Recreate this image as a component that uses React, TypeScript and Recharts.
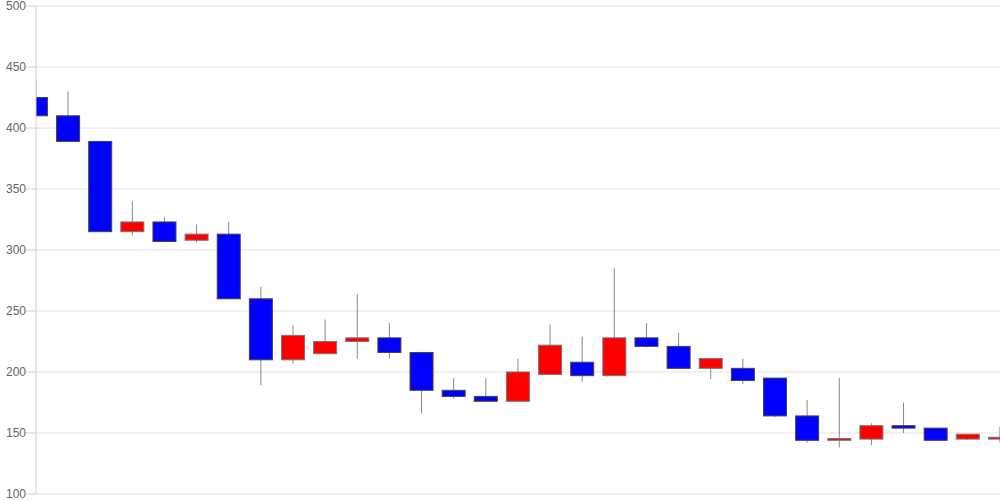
import { ComposedChart, Bar, XAxis, YAxis, CartesianGrid } from "recharts";

const opens = [425, 410, 389, 315, 323, 308, 313, 260, 210, 215, 225, 228, 216, 185, 180, 176, 198, 208, 197, 228, 221, 203, 203, 195, 164, 144, 145, 156, 154, 145, 145];
const closes = [410, 389, 315, 323, 307, 313, 260, 210, 230, 225, 228, 216, 185, 180, 176, 200, 222, 197, 228, 221, 203, 211, 193, 164, 144, 145.5, 156, 154, 144, 149, 146.5];
const highs = [440, 430, 389, 340, 327, 321, 323, 270, 238, 243, 264, 240, 216, 195, 195, 211, 239, 229, 285, 240, 232, 211, 211, 195, 177, 195, 158, 175, 154, 149, 155];
const lows = [410, 389, 315, 312, 307, 306, 260, 189, 207, 215, 211, 211, 166, 178, 176, 176, 198, 192, 197, 220, 203, 194, 190, 163, 142, 138, 140, 150, 144, 144, 142];
const yTicks = [100, 150, 200, 250, 300, 350, 400, 450, 500];

const data = opens.map((o, i) => ({
  i,
  open: o,
  close: closes[i],
  high: highs[i],
  low: lows[i],
  range: [lows[i], highs[i]],
}));

const Candle = (props: any) => {
  const { x, y, width, height, payload } = props;
  const { open, close, high, low } = payload;
  const h = Math.abs(height);
  const top = Math.min(y, y + height);
  const k = h / (high - low || 1);
  const bodyTop = top + (high - Math.max(open, close)) * k;
  const bodyBottom = top + (high - Math.min(open, close)) * k;
  const cx = x + width / 2;
  const up = close >= open;
  return (
    <g>
      <line x1={cx} x2={cx} y1={top} y2={top + h} stroke="#888" strokeWidth={1} />
      <rect
        x={x + 0.5}
        y={bodyTop}
        width={width - 1}
        height={Math.max(bodyBottom - bodyTop, 1)}
        fill={up ? "#ff0000" : "#0000ff"}
        stroke={up ? "#777" : "#444"}
        strokeWidth={1}
      />
    </g>
  );
};

export default function App() {
  return (
    <div style={{ position: "absolute", left: 0, top: 0, fontFamily: "'Liberation Sans', Arial, sans-serif" }}>
      <ComposedChart width={1000} height={500} data={data} margin={{ top: 6, right: 0, bottom: 6, left: 0 }}>
        <CartesianGrid vertical={false} stroke="#e2e2e2" />
        <XAxis type="number" dataKey="i" domain={[0, 30]} allowDataOverflow hide />
        <YAxis
          type="number"
          domain={[100, 500]}
          ticks={yTicks}
          interval={0}
          allowDataOverflow
          width={36}
          tickSize={10}
          tickMargin={0}
          stroke="#d0d0d0"
          tick={{ fill: "#666", fontSize: 12 }}
        />
        <Bar dataKey="range" barSize={24} shape={<Candle />} isAnimationActive={false} />
      </ComposedChart>
    </div>
  );
}
